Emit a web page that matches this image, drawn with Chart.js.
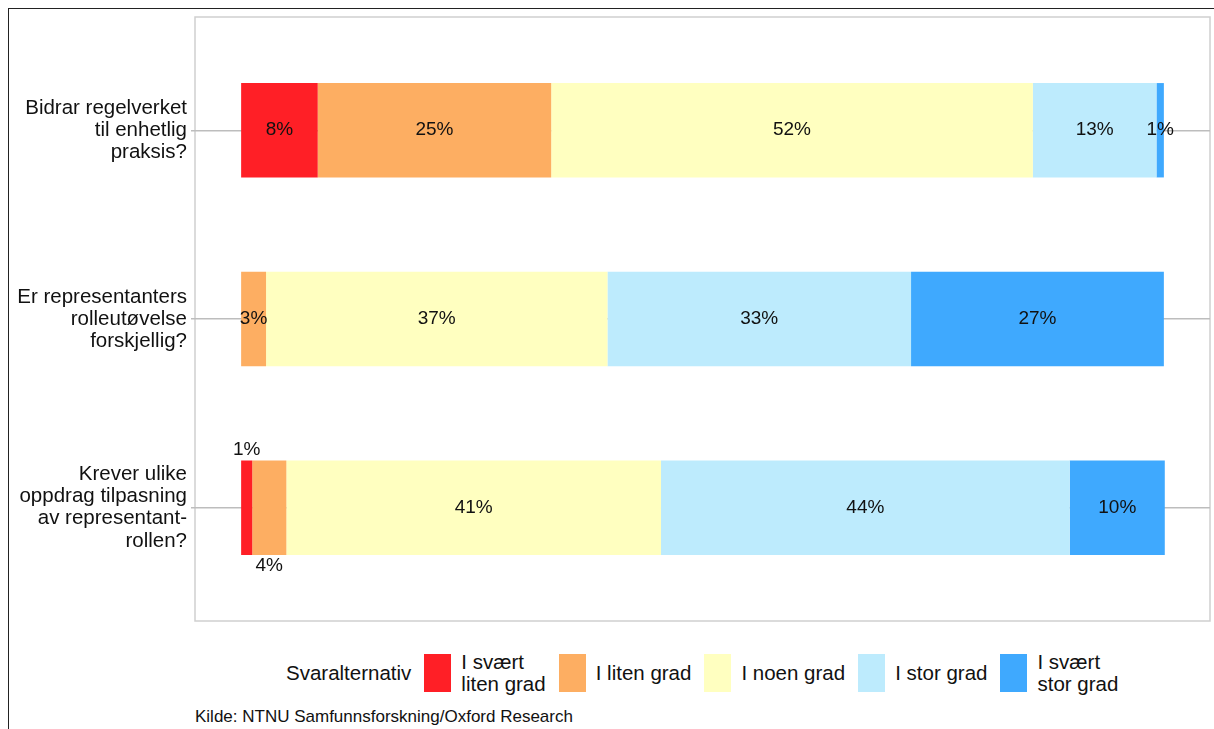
<!DOCTYPE html>
<html>
<head>
<meta charset="utf-8">
<script src="https://cdn.jsdelivr.net/npm/chart.js@4/dist/chart.umd.min.js"></script>
<style>
  body { margin: 0; background: #fff; font-family: "Liberation Sans", Arial, sans-serif; }
  #wrap { position: absolute; left: 0; top: 0; width: 1214px; height: 640px; }
  .frameTop { position: absolute; left: 8px; top: 8px; width: 1206px; height: 0; border-top: 1.5px solid #222; }
  .frameLeft { position: absolute; left: 8px; top: 8px; width: 0; height: 721px; border-left: 1.5px solid #222; }
  #legend { position: absolute; left: 286px; top: 651px; height: 44px; display: flex; align-items: center; font-size: 20.5px; color: #111; }
  #legend .title { margin-right: 13px; }
  #legend .sw { width: 27px; height: 38px; margin-right: 10px; }
  #legend .lbl { line-height: 22px; margin-right: 13px; }
  #caption { position: absolute; left: 195px; top: 707px; font-size: 17px; color: #111; }
</style>
</head>
<body>
<div class="frameTop"></div>
<div class="frameLeft"></div>
<div id="wrap"><canvas id="myChart"></canvas></div>
<div id="legend"></div>
<div id="caption">Kilde: NTNU Samfunnsforskning/Oxford Research</div>
<script>
// categories (y axis), one text line per array entry
const questions = [
    ['Bidrar regelverket', 'til enhetlig', 'praksis?'],
    ['Er representanters', 'rolleutøvelse', 'forskjellig?'],
    ['Krever ulike', 'oppdrag tilpasning', 'av representant-', 'rollen?']
];

// answer options, legend text
const answers = [
    ['I svært', 'liten grad'],
    ['I liten grad'],
    ['I noen grad'],
    ['I stor grad'],
    ['I svært', 'stor grad']
];

// shares in percent, one value per question
const svaertLiten = [8.3, 0, 1.2];
const liten = [25.3, 2.7, 3.7];
const noen = [52.2, 37.0, 40.6];
const stor = [13.4, 32.9, 44.3];
const svaertStor = [0.8, 27.4, 10.3];

const colors = ['#ff1f26', '#fdae62', '#ffffc0', '#bdebfd', '#3fa9fe'];

// small labels in the last row sit above / below the bar
const labelShift = [[0, 0, -1], [0, 0, 1], [0, 0, 0], [0, 0, 0], [0, 0, 0]];

const series = [svaertLiten, liten, noen, stor, svaertStor];

const datasets = series.map((vals, i) => ({
    label: answers[i].join(' '),
    data: vals.map((v, j) => ({ x: v, y: j + 1 })),
    backgroundColor: colors[i],
    borderWidth: 0,
    categoryPercentage: 0.5,
    barPercentage: 1
}));

const panelBox = {
    id: 'panelBox',
    beforeDraw(chart) {
        const { ctx, chartArea: a } = chart;
        ctx.save();
        ctx.strokeStyle = '#cfcfcf';
        ctx.lineWidth = 1.5;
        ctx.strokeRect(a.left, a.top, a.right - a.left, a.bottom - a.top);
        ctx.restore();
    }
};

const barLabels = {
    id: 'barLabels',
    afterDatasetsDraw(chart) {
        const ctx = chart.ctx;
        ctx.save();
        ctx.font = '19px "Liberation Sans", Arial, sans-serif';
        ctx.fillStyle = '#111';
        ctx.textAlign = 'center';
        ctx.textBaseline = 'middle';
        chart.data.datasets.forEach((ds, i) => {
            chart.getDatasetMeta(i).data.forEach((bar, j) => {
                const v = series[i][j];
                if (!v) return;
                const x = (bar.x + bar.base) / 2;
                const y = bar.y + labelShift[i][j] * (bar.height / 2 + 11);
                ctx.fillText(Math.round(v) + '%', x, y);
            });
        });
        ctx.restore();
    }
};

const ctx = document.getElementById('myChart').getContext('2d');
const myChart = new Chart(ctx, {
    type: 'bar',
    data: { datasets: datasets },
    options: {
        indexAxis: 'y',
        responsive: true,
        maintainAspectRatio: false,
        animation: false,
        layout: { padding: { top: 17, right: 4, bottom: 19, left: 0 } },
        plugins: {
            legend: { display: false },
            tooltip: { enabled: false }
        },
        scales: {
            x: {
                type: 'linear',
                stacked: true,
                min: -5,
                max: 105,
                display: false
            },
            y: {
                type: 'linear',
                stacked: true,
                reverse: true,
                offset: false,
                min: 0.4,
                max: 3.6,
                afterBuildTicks: (scale) => {
                    scale.ticks = questions.map((q, i) => ({ value: i + 1 }));
                },
                afterFit: (scale) => {
                    scale.width = 195;
                    scale.paddingTop = 0;
                    scale.paddingBottom = 0;
                },
                ticks: {
                    callback: (v) => questions[v - 1],
                    color: '#111',
                    font: { size: 20.5, family: '"Liberation Sans", Arial, sans-serif', lineHeight: 1.08 },
                    padding: 4
                },
                grid: {
                    offset: false,
                    color: '#bdbdbd',
                    lineWidth: 1.5,
                    tickLength: 4
                },
                border: { display: false }
            }
        }
    },
    plugins: [panelBox, barLabels]
});

// legend built from the same arrays
const legend = document.getElementById('legend');
legend.innerHTML = '<span class="title">Svaralternativ</span>' +
    answers.map((a, i) => '<span class="sw" style="background:' + colors[i] + '"></span>' +
        '<span class="lbl">' + a.join('<br>') + '</span>').join('');
</script>
</body>
</html>
